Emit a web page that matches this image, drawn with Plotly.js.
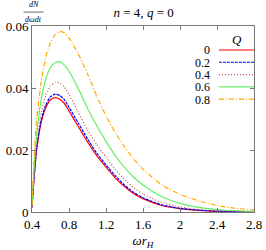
<!DOCTYPE html>
<html><head><meta charset="utf-8">
<script src="https://cdn.plot.ly/plotly-3.0.1.min.js"></script>
<style>html,body{margin:0;padding:0;background:#fff}#c{width:266px;height:250px}</style>
</head><body><div id="c"></div>
<script>
const x = [0.40,0.42,0.45,0.50,0.55,0.60,0.65,0.70,0.75,0.80,0.90,1.00,1.10,1.20,1.30,1.40,1.50,1.60,1.80,2.00,2.20,2.40,2.60,2.80];
const yQ0  = [0.0015,0.010,0.020,0.0290,0.0337,0.0362,0.0369,0.0364,0.0350,0.0326,0.0276,0.0226,0.0182,0.0145,0.0110,0.0082,0.0059,0.0043,0.0021,0.0011,0.0005,0.0002,0.0001,0.00003];
const yQ02 = [0.0015,0.010,0.0205,0.0297,0.0346,0.0372,0.0380,0.0376,0.0362,0.0338,0.0287,0.0236,0.0190,0.0152,0.0117,0.0087,0.0063,0.0046,0.0023,0.0012,0.0006,0.0003,0.0001,0.00004];
const yQ04 = [0.0015,0.011,0.022,0.0320,0.0377,0.0406,0.0418,0.0416,0.0403,0.0380,0.0322,0.0265,0.0218,0.0176,0.0138,0.0105,0.0078,0.0058,0.0031,0.0016,0.0008,0.0004,0.0002,0.0001];
const yQ06 = [0.002,0.013,0.025,0.0365,0.0430,0.0466,0.0482,0.0485,0.0474,0.0454,0.0398,0.0335,0.0278,0.0228,0.0182,0.0144,0.0112,0.0087,0.0050,0.0028,0.0015,0.0008,0.0004,0.0002];
const yQ08 = [0.002,0.016,0.030,0.0420,0.0500,0.0547,0.0572,0.0582,0.0578,0.0562,0.0510,0.0446,0.0374,0.0310,0.0256,0.0210,0.0171,0.0138,0.0088,0.0057,0.0036,0.0021,0.0012,0.0006];
const labels = ["0","0.2","0.4","0.6","0.8"];
const series = [yQ0,yQ02,yQ04,yQ06,yQ08];
const colors = ["#ff0000","#0000ff","#c05050","#66ee66","#ffaa00"];
const dashes = ["solid","3px,1px","1px,2px","solid","5px,2px,1px,2px"];
const xTicks = [0.4,0.8,1.2,1.6,2,2.4,2.8];
const yTicks = [0,0.02,0.04,0.06];

const font = "Liberation Serif";
const traces = series.map((y,i)=>({x:x,y:y,type:"scatter",mode:"lines",line:{color:colors[i],width:1.2,dash:dashes[i],shape:"spline",smoothing:0.6},showlegend:false,hoverinfo:"skip"}));

const ann = [];
const shapes = [];
// legend
const legTop = 0.871, legStep = 0.066;
ann.push({xref:"paper",yref:"paper",x:0.925,y:legTop+0.058,text:"<i>Q</i>",showarrow:false,font:{family:font,size:13,color:"#000"},xanchor:"center",yanchor:"middle"});
labels.forEach((t,i)=>{
  const yy = legTop - i*legStep;
  ann.push({xref:"paper",yref:"paper",x:0.812,y:yy,text:t,showarrow:false,font:{family:font,size:12,color:"#000"},xanchor:"right",yanchor:"middle",height:11});
  shapes.push({type:"line",xref:"paper",yref:"paper",x0:0.842,x1:1.0,y0:yy,y1:yy,line:{color:colors[i],width:1.2,dash:dashes[i]}});
});
// y axis label fraction
ann.push({xref:"paper",yref:"paper",x:0.007,y:1.082,text:"<i>dN</i>",showarrow:false,font:{family:font,size:8,color:"#000"},xanchor:"center",yanchor:"bottom",height:9});
ann.push({xref:"paper",yref:"paper",x:0.007,y:1.068,text:"<i>dωdt</i>",showarrow:false,font:{family:font,size:8,color:"#000"},xanchor:"center",yanchor:"top",height:9});
shapes.push({type:"line",xref:"paper",yref:"paper",x0:-0.038,x1:0.052,y0:1.075,y1:1.075,line:{color:"#000",width:0.6}});

const layout = {
  width:266,height:250,
  margin:{l:32,r:12,t:26,b:38},
  paper_bgcolor:"#fff",plot_bgcolor:"#fff",
  font:{family:font,size:13,color:"#000"},
  title:{text:"<i>n</i> = 4, <i>q</i> = 0",x:0.54,xanchor:"center",y:0.95,yanchor:"middle",font:{family:font,size:13}},
  xaxis:{range:[0.4,2.8],tickvals:xTicks,ticktext:xTicks.map(String),ticks:"inside",ticklen:4,tickcolor:"#777",mirror:"ticks",showline:true,linecolor:"#777",linewidth:1,showgrid:false,zeroline:false,
    title:{text:"<i>ωr</i><sub><i>H</i></sub>",font:{family:font,size:13},standoff:6},tickfont:{family:font,size:13}},
  yaxis:{range:[0,0.06],tickvals:yTicks,ticktext:yTicks.map(String),ticks:"inside",ticklen:4,tickcolor:"#777",mirror:"ticks",showline:true,linecolor:"#777",linewidth:1,showgrid:false,zeroline:false,tickfont:{family:font,size:13}},
  annotations:ann,shapes:shapes
};
Plotly.newPlot("c",traces,layout,{displayModeBar:false,staticPlot:true});
</script></body></html>
